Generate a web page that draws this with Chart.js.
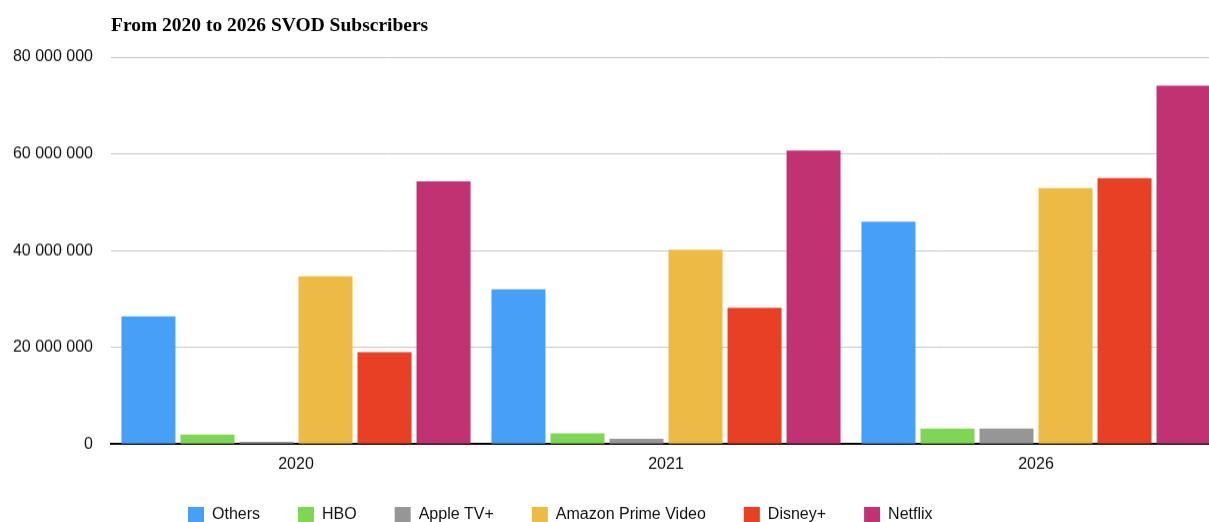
<!DOCTYPE html>
<html>
<head>
<meta charset="utf-8">
<script src="https://cdn.jsdelivr.net/npm/chart.js@4/dist/chart.umd.min.js"></script>
<style>
  html, body { margin: 0; padding: 0; overflow: hidden; background: #ffffff; }
  #wrap { position: absolute; left: 0; top: 0; width: 1221px; height: 548.5px; }
</style>
</head>
<body>
<div id="wrap"><canvas id="c"></canvas></div>
<script>
const categories = ['2020', '2021', '2026'];
const seriesNames = ['Others', 'HBO', 'Apple TV+', 'Amazon Prime Video', 'Disney+', 'Netflix'];
const others  = [26400000, 32000000, 46000000];
const hbo     = [2000000, 2250000, 3200000];
const apple   = [500000, 1100000, 3200000];
const amazon  = [34700000, 40200000, 52900000];
const disney  = [19000000, 28200000, 55000000];
const netflix = [54300000, 60700000, 74100000];
const yTickLabels = ['0', '20 000 000', '40 000 000', '60 000 000', '80 000 000'];
const colors = ['#489FF7', '#7FD655', '#969696', '#EDBB43', '#E84025', '#C13272'];

const seriesValues = [others, hbo, apple, amazon, disney, netflix];

const legendPlacement = {
  id: 'legendPlacement',
  afterLayout(chart) {
    const lg = chart.legend;
    if (!lg) return;
    const w = lg.right - lg.left, h = lg.bottom - lg.top;
    lg.left = 150; lg.right = lg.left + w;
    lg.top = 468; lg.bottom = lg.top + h;
  }
};

new Chart(document.getElementById('c'), {
  type: 'bar',
  data: {
    labels: categories,
    datasets: seriesNames.map((name, i) => ({
      label: name,
      data: seriesValues[i],
      backgroundColor: colors[i],
      borderWidth: 0,
      categoryPercentage: 0.957,
      barPercentage: 0.915
    }))
  },
  options: {
    responsive: true,
    maintainAspectRatio: false,
    animation: false,
    layout: { padding: { left: 0, right: 0, top: 0, bottom: 0 } },
    plugins: {
      title: {
        display: true,
        text: 'From 2020 to 2026 SVOD Subscribers',
        align: 'start',
        fullSize: false,
        color: '#000000',
        font: { family: "'Liberation Serif', 'Times New Roman', serif", weight: 'bold', size: 19.5, lineHeight: 1.2 },
        padding: { top: 14.5, bottom: 19.1 }
      },
      legend: {
        display: true,
        position: 'bottom',
        align: 'start',
        labels: {
          boxWidth: 16,
          boxHeight: 16,
          padding: 38,
          color: '#111111',
          font: { family: "'Liberation Sans', Arial, sans-serif", size: 16 }
        }
      },
      tooltip: { enabled: false }
    },
    scales: {
      x: {
        z: 1,
        grid: { display: false, drawTicks: false },
        border: { display: true, color: '#000000', width: 2 },
        ticks: {
          padding: 11,
          color: '#111111',
          font: { family: "'Liberation Sans', Arial, sans-serif", size: 16 }
        }
      },
      y: {
        min: 0,
        max: 80000000,
        afterFit(scale) { scale.width = 111; },
        border: { display: false },
        grid: {
          drawTicks: false,
          lineWidth: 1,
          color: (ctx) => (ctx.tick && ctx.tick.value === 0) ? 'rgba(0,0,0,0)' : '#c4c4c4'
        },
        ticks: {
          stepSize: 20000000,
          padding: 18,
          color: '#111111',
          font: { family: "'Liberation Sans', Arial, sans-serif", size: 16 },
          callback: (value, index) => yTickLabels[index]
        }
      }
    }
  },
  plugins: [legendPlacement]
});
</script>
</body>
</html>
